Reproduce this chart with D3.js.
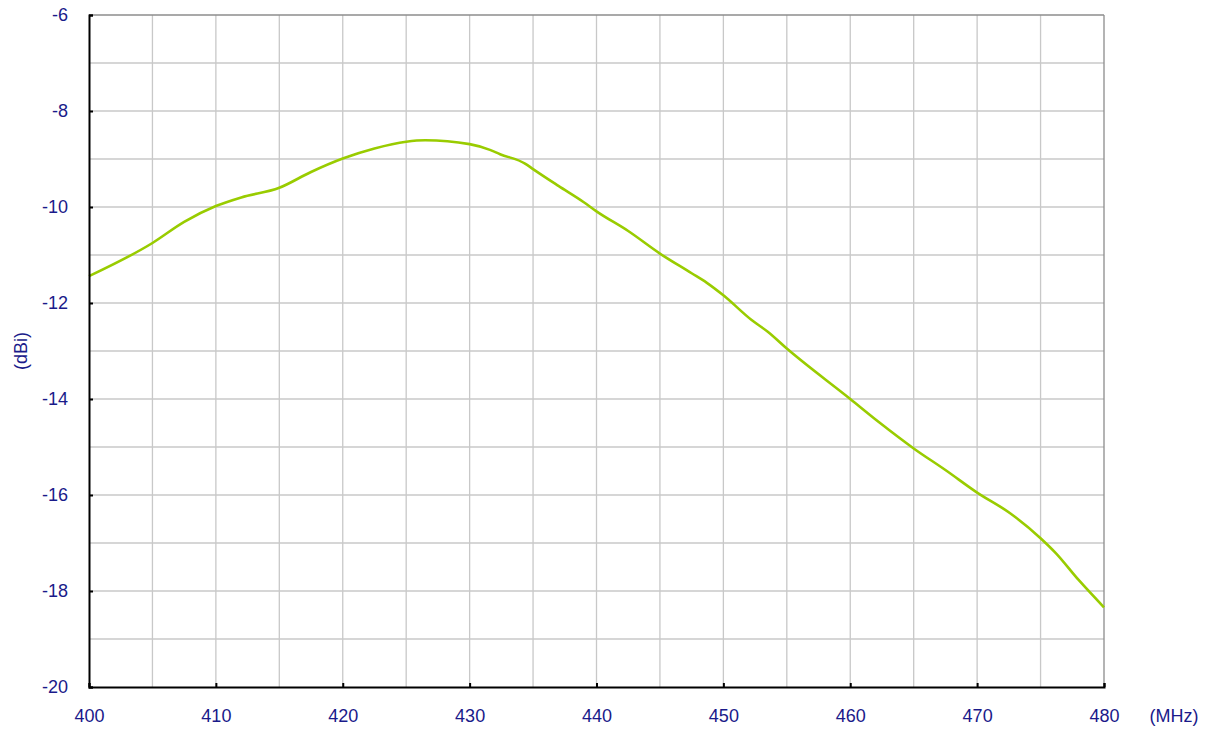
<!DOCTYPE html>
<html><head><meta charset="utf-8">
<script src="https://cdn.jsdelivr.net/npm/d3@7"></script>
<style>body{margin:0;background:#fff;}svg{display:block;}text{font-family:"Liberation Sans",Arial,sans-serif;}</style>
</head><body>
<script>
const freqs = [400,405,407.5,410,412,415,417.5,420,422.5,425,426.5,430,431.6,432.4,434.4,435,437,439,440,442.5,445,447.5,448.7,450,452.2,453.5,455,460,462.3,465,467.5,470,472.6,475,476.2,478,480];
const gains = [-11.44,-10.75,-10.31,-9.98,-9.8,-9.6,-9.27,-8.99,-8.78,-8.64,-8.61,-8.69,-8.81,-8.9,-9.1,-9.21,-9.56,-9.9,-10.09,-10.5,-10.97,-11.38,-11.58,-11.84,-12.35,-12.6,-12.95,-14.0,-14.49,-15.03,-15.48,-15.95,-16.38,-16.9,-17.21,-17.77,-18.34];
const xTicks = [400,410,420,430,440,450,460,470,480];
const yTicks = [-6,-8,-10,-12,-14,-16,-18,-20];
const xUnit = "(MHz)", yUnit = "(dBi)";

const W=1211,H=731, L=89,T=15,R=1104,B=687;
const svg=d3.select("body").append("svg").attr("width",W).attr("height",H);
const x=d3.scaleLinear().domain([400,480]).range([L,R]);
const y=d3.scaleLinear().domain([-20,-6]).range([B,T]);
const navy="#1a1a8a";
const FS="18px";

// grid
const g=svg.append("g");
d3.range(405,480,5).forEach(v=>g.append("line").attr("x1",x(v)).attr("x2",x(v)).attr("y1",T).attr("y2",B).attr("stroke","#c8c8c8").attr("stroke-width",1.3));
d3.range(-19,-6,1).forEach(v=>g.append("line").attr("x1",L).attr("x2",R).attr("y1",y(v)).attr("y2",y(v)).attr("stroke","#c8c8c8").attr("stroke-width",1.3));
// top/right border
svg.append("line").attr("x1",L).attr("x2",R).attr("y1",T).attr("y2",T).attr("stroke","#8c8c8c").attr("stroke-width",1.3);
svg.append("line").attr("x1",R).attr("x2",R).attr("y1",T).attr("y2",B).attr("stroke","#8c8c8c").attr("stroke-width",1.3);

// line
svg.append("path").datum(freqs.map((f,i)=>[f,gains[i]]))
  .attr("d",d3.line().x(d=>x(d[0])).y(d=>y(d[1])).curve(d3.curveMonotoneX))
  .attr("fill","none").attr("stroke","#99cc00").attr("stroke-width",2.6);

// axes
const xa=svg.append("g").attr("transform",`translate(0,${B})`)
  .call(d3.axisBottom(x).tickValues(xTicks).tickSize(-4).tickPadding(22).tickFormat(d3.format("d")));
const ya=svg.append("g").attr("transform",`translate(${L},0)`)
  .call(d3.axisLeft(y).tickValues(yTicks).tickSize(-4).tickPadding(21).tickFormat(d=>d));
[xa,ya].forEach(a=>{a.attr("font-size",FS).attr("font-family","'Liberation Sans',Arial,sans-serif");
  a.select(".domain").attr("stroke","#000").attr("stroke-width",2);
  a.selectAll(".tick line").attr("stroke","#000").attr("stroke-width",2);
  a.selectAll("text").attr("fill",navy);});

svg.append("text").attr("x",1174).attr("y",722).attr("text-anchor","middle").attr("fill",navy).attr("font-size",FS).text(xUnit);
svg.append("text").attr("transform","translate(27,351) rotate(-90)").attr("text-anchor","middle").attr("fill",navy).attr("font-size",FS).text(yUnit);
</script>
</body></html>
